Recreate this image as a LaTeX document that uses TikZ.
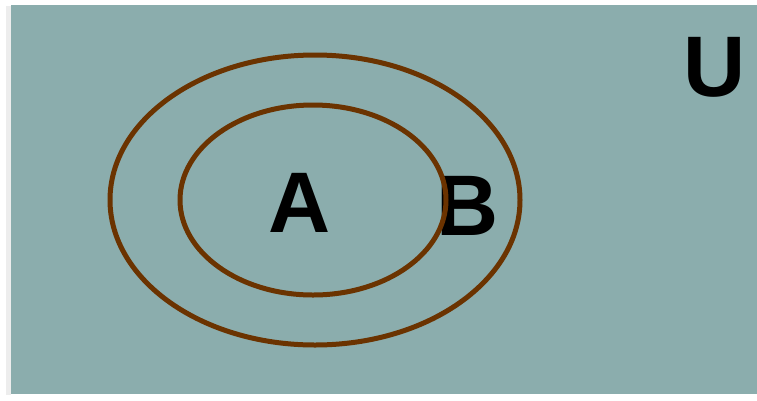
\documentclass[tikz,border=0pt]{standalone}
\usepackage{fontspec}
\setmainfont{Liberation Sans}
\definecolor{venngray}{RGB}{139,173,173}
\definecolor{vennbrown}{RGB}{107,51,0}
\tikzset{
  setline/.style={vennbrown, line width=5pt},
  setname/.style={font=\fontsize{86}{86}\selectfont\bfseries, inner sep=0pt}
}
\begin{document}
\begin{tikzpicture}[x=1pt, y=-1pt]
  \useasboundingbox (0,0) rectangle (757,400);
  % Universe
  \fill[white] (0,0) rectangle (757,400);
  \fill[black!7] (6,6) rectangle (11,395);
  \fill[venngray] (11,5) rectangle (757,394);
  \node[setname] (u) at (715,67) {U};
  % Set B
  \draw[setline] (315,200) ellipse [x radius=205, y radius=145];
  \node[setname] (b) at (468,206) {B};
  % Set A
  \draw[setline] (313,200) ellipse [x radius=133, y radius=95];
  \node[setname] (a) at (300,203) {A};
\end{tikzpicture}
\end{document}
